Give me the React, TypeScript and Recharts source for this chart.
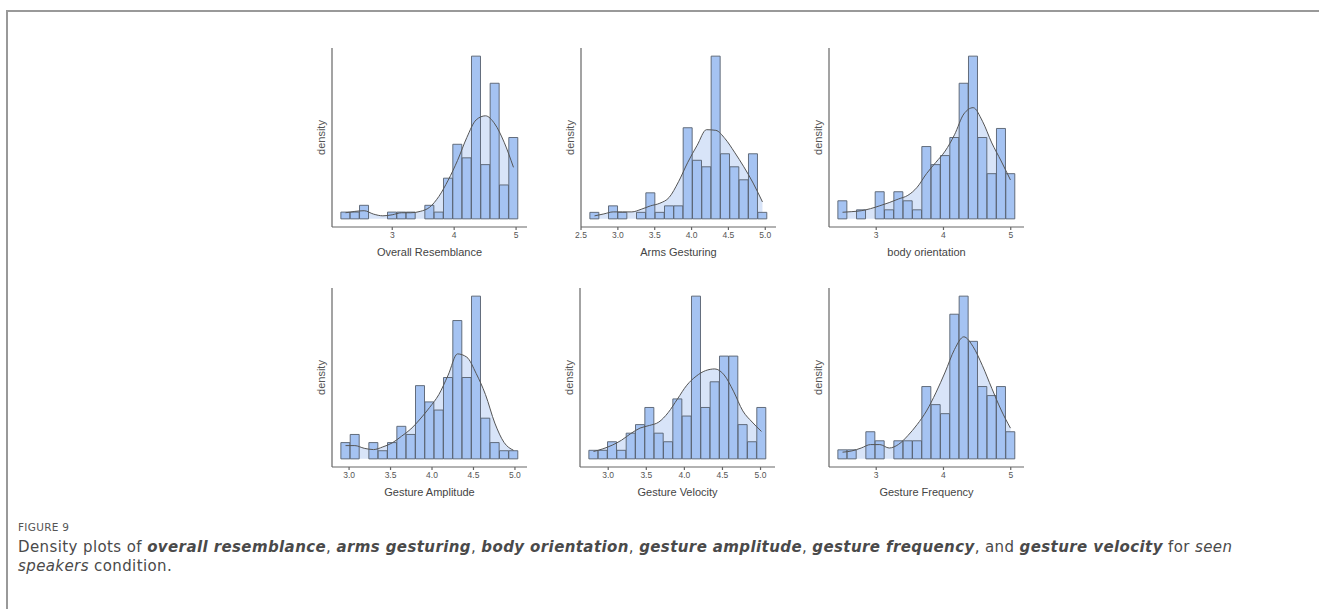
import React from "react";
import { Area, Bar, ComposedChart, Label, Line, XAxis, YAxis } from "recharts";

// bar heights (counts per bin) and smoothed density read at the bin centres
const overallCounts = [1, 1, 2, 0, 0, 1, 1, 1, 0, 2, 1, 6, 11, 9, 24, 8, 20, 5, 12];
const overallDensity = [0.9, 1.1, 1.2, 0.7, 0.45, 0.6, 0.9, 0.9, 1.1, 1.7, 3.3, 5.7, 8.6, 12, 14.6, 15.2, 14, 11.3, 7.6];

const armsCounts = [1, 0, 2, 1, 0, 1, 4, 1, 2, 2, 14, 9, 8, 25, 10, 8, 6, 10, 1];
const armsDensity = [0.46, 0.76, 1.07, 1.07, 1.07, 1.47, 2.0, 2.4, 3.3, 5.7, 8.7, 11.3, 13.7, 13.6, 12.3, 10.25, 8.0, 5.5, 2.6];

const bodyCounts = [2, 0, 1, 0, 3, 1, 3, 2, 1, 8, 6, 7, 9, 15, 18, 9, 5, 10, 5];
const bodyDensity = [0.73, 0.8, 0.9, 1.13, 1.45, 1.8, 2.2, 2.6, 3.5, 5.0, 6.25, 7.5, 9.3, 11.6, 12.3, 10.8, 8.4, 6.4, 4.3];

const amplitudeCounts = [2, 3, 0, 2, 1, 2, 4, 3, 9, 7, 6, 10, 17, 10, 20, 5, 2, 1, 1];
const amplitudeDensity = [1.63, 1.63, 1.3, 1.14, 1.47, 1.96, 2.78, 3.67, 4.9, 6.3, 7.9, 10.3, 12.9, 12.5, 10.5, 7.9, 4.4, 2.0, 1.06];

const velocityCounts = [1, 1, 2, 1, 3, 4, 6, 3, 2, 7, 5, 19, 6, 9, 12, 12, 4, 2, 6];
const velocityDensity = [0.86, 1.17, 1.6, 2.18, 2.96, 3.6, 3.9, 4.3, 5.4, 7.0, 8.6, 9.65, 10.3, 10.5, 9.8, 7.9, 5.6, 4.3, 3.2];

const frequencyCounts = [1, 1, 0, 3, 2, 0, 2, 2, 2, 8, 6, 5, 16, 18, 13, 8, 7, 8, 3];
const frequencyDensity = [0.74, 0.88, 1.2, 1.58, 1.58, 1.2, 1.6, 2.57, 3.8, 5.3, 7.3, 9.6, 12.1, 13.5, 12.4, 10.3, 7.8, 5.4, 3.4];

const intTicks = [3, 4, 5];
const halfTicks = [2.5, 3.0, 3.5, 4.0, 4.5, 5.0];
const halfTicksFrom3 = [3.0, 3.5, 4.0, 4.5, 5.0];

type PanelSpec = {
  title: string;
  counts: number[];
  density: number[];
  start: number;
  binWidth: number;
  ticks: number[];
  decimals: number;
  left: number;
  top: number;
};

const panels: PanelSpec[] = [
  { title: "Overall Resemblance", counts: overallCounts, density: overallDensity, start: 2.17, binWidth: 0.1507, ticks: intTicks, decimals: 0, left: 332, top: 48 },
  { title: "Arms Gesturing", counts: armsCounts, density: armsDensity, start: 2.62, binWidth: 0.1266, ticks: halfTicks, decimals: 1, left: 581, top: 48 },
  { title: "body orientation", counts: bodyCounts, density: bodyDensity, start: 2.43, binWidth: 0.1387, ticks: intTicks, decimals: 0, left: 829, top: 48 },
  { title: "Gesture Amplitude", counts: amplitudeCounts, density: amplitudeDensity, start: 2.901, binWidth: 0.1125, ticks: halfTicksFrom3, decimals: 1, left: 332, top: 288 },
  { title: "Gesture Velocity", counts: velocityCounts, density: velocityDensity, start: 2.746, binWidth: 0.1225, ticks: halfTicksFrom3, decimals: 1, left: 580, top: 288 },
  { title: "Gesture Frequency", counts: frequencyCounts, density: frequencyDensity, start: 2.43, binWidth: 0.1387, ticks: intTicks, decimals: 0, left: 829, top: 288 },
];

const AXIS = "#666";
const FONT = "'Liberation Sans', Arial, sans-serif";
const CAPTION_FONT = "'DejaVu Sans', sans-serif";

function Panel({ p }: { p: PanelSpec }) {
  const data = p.counts.map((c, i) => ({
    x: p.start + (i + 0.5) * p.binWidth,
    count: c,
    density: p.density[i],
  }));
  const end = p.start + p.counts.length * p.binWidth;
  const pad = (end - p.start) * 0.05;
  const peak = Math.max(...p.counts, ...p.density);

  return (
    <div style={{ position: "absolute", left: p.left - 22, top: p.top - 5 }}>
      <ComposedChart
        width={222}
        height={218}
        data={data}
        margin={{ top: 5, right: 5, bottom: 0, left: 0 }}
        barCategoryGap={0}
        barGap={0}
        style={{ fontFamily: FONT }}
      >
        <XAxis
          type="number"
          dataKey="x"
          domain={[p.start - pad, end + pad]}
          allowDataOverflow
          ticks={p.ticks}
          interval={0}
          tickFormatter={(v: number) => v.toFixed(p.decimals)}
          tickSize={3}
          tickMargin={2}
          stroke={AXIS}
          strokeWidth={1.2}
          tick={{ fill: "#555", fontSize: 8.5 }}
          height={34}
        >
          <Label value={p.title} position="insideBottom" offset={5} fill="#444" fontSize={11} />
        </XAxis>
        <YAxis
          type="number"
          domain={[-0.05 * peak, 1.05 * peak]}
          allowDataOverflow
          tick={false}
          tickLine={false}
          width={22}
          stroke={AXIS}
          strokeWidth={1.2}
        >
          <Label value="density" angle={-90} position="center" fill="#555" fontSize={11} />
        </YAxis>
        <Area dataKey="density" type="monotone" fill="#d8e4f8" fillOpacity={1} stroke="none" isAnimationActive={false} />
        <Bar dataKey="count" fill="#a5c3f2" stroke="#56606e" strokeWidth={0.9} isAnimationActive={false} />
        <Line dataKey="density" type="monotone" stroke="#555" strokeWidth={1} dot={false} isAnimationActive={false} />
      </ComposedChart>
    </div>
  );
}

export default function App() {
  const bi = { fontWeight: 700, fontStyle: "italic" as const };
  return (
    <div
      style={{
        position: "absolute",
        left: 0,
        top: 0,
        width: 1319,
        height: 609,
        background: "#fff",
        overflow: "hidden",
      }}
    >
      <div style={{ position: "absolute", left: 6, top: 10, width: 1313, height: 2, background: "#999" }} />
      <div style={{ position: "absolute", left: 6, top: 10, width: 2, height: 599, background: "#999" }} />
      {panels.map((p) => (
        <Panel key={p.title} p={p} />
      ))}
      <div
        style={{
          position: "absolute",
          left: 18,
          top: 521,
          fontFamily: CAPTION_FONT,
          fontSize: 10.5,
          color: "#555",
          letterSpacing: 0.3,
        }}
      >
        FIGURE 9
      </div>
      <div
        style={{
          position: "absolute",
          left: 18,
          top: 538,
          fontFamily: CAPTION_FONT,
          fontSize: 15,
          lineHeight: "19px",
          color: "#4a4a4a",
          whiteSpace: "nowrap",
          letterSpacing: 0.4,
        }}
      >
        <div>
          Density plots of <span style={bi}>overall resemblance</span>, <span style={bi}>arms gesturing</span>,{" "}
          <span style={bi}>body orientation</span>, <span style={bi}>gesture amplitude</span>,{" "}
          <span style={bi}>gesture frequency</span>, and <span style={bi}>gesture velocity</span> for{" "}
          <span style={{ fontStyle: "italic" }}>seen</span>
        </div>
        <div>
          <span style={{ fontStyle: "italic" }}>speakers</span> condition.
        </div>
      </div>
    </div>
  );
}
